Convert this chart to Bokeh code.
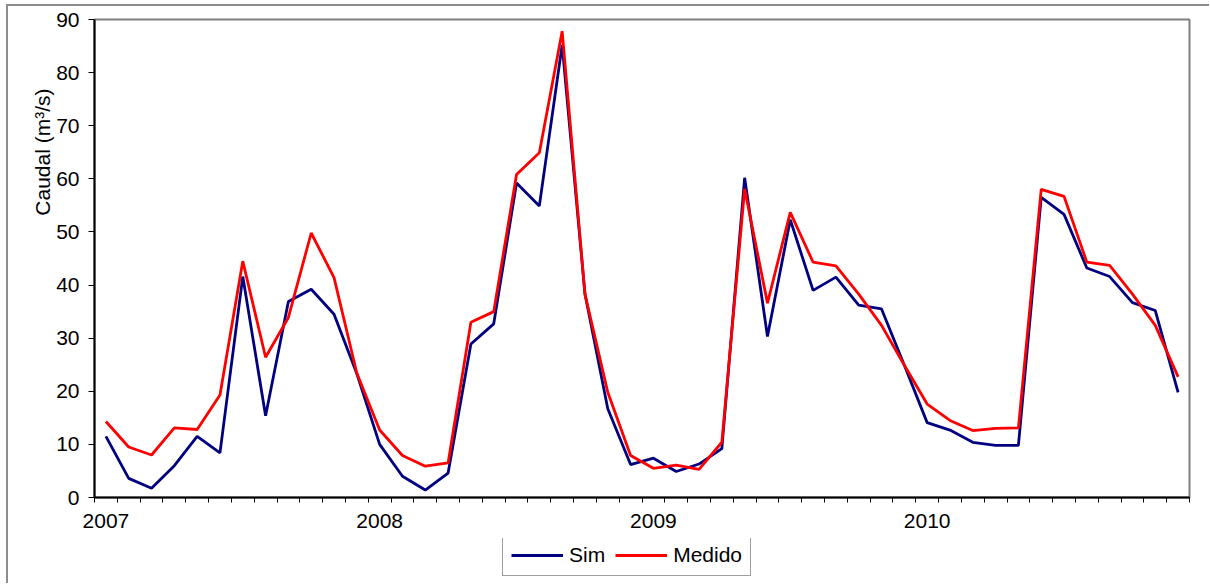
from bokeh.plotting import figure
from bokeh.layouts import column
from bokeh.models import (Range1d, FixedTicker, Legend, LegendItem, Title,
                          ColumnDataSource)
from bokeh.embed import file_html
from bokeh.resources import INLINE

# ---- data (monthly, Jan 2007 .. Dec 2010) ----
years = ["2007", "2008", "2009", "2010"]
sim = [11.5, 3.6, 1.75, 6.0, 11.5, 8.4, 41.6, 15.4,
       36.9, 39.2, 34.5, 23.3, 10.0, 4.0, 1.4, 4.6,
       28.9, 32.7, 59.2, 54.9, 85.2, 38.3, 16.7, 6.2,
       7.4, 4.9, 6.3, 9.2, 60.2, 30.3, 52.3, 39.0,
       41.5, 36.2, 35.5, 24.9, 14.1, 12.7, 10.4, 9.8,
       9.8, 56.5, 53.3, 43.2, 41.6, 36.7, 35.2, 19.8]
medido = [14.3, 9.5, 8.0, 13.1, 12.8, 19.3, 44.5, 26.4,
          33.9, 49.8, 41.4, 23.4, 12.7, 7.9, 5.9, 6.5,
          33.0, 35.0, 60.8, 64.9, 87.8, 38.3, 19.8, 7.9,
          5.5, 6.1, 5.3, 10.4, 58.1, 36.6, 53.7, 44.3,
          43.6, 38.3, 32.4, 24.9, 17.6, 14.5, 12.6, 13.0,
          13.1, 58.0, 56.7, 44.3, 43.7, 38.3, 32.4, 22.7]
y_ticks = [0, 10, 20, 30, 40, 50, 60, 70, 80, 90]
series_names = ["Sim", "Medido"]
series_colors = ["#000080", "#FF0000"]

n = len(sim)
idx = list(range(n))
src = ColumnDataSource(dict(x=idx, sim=sim, med=medido))

FONT = "Liberation Sans"
FS = "21px"
LW = 2.8

p = figure(width=1201, height=532, output_backend="svg", toolbar_location=None,
           x_range=Range1d(-0.5, n - 0.5), y_range=Range1d(0, 90),
           min_border_left=86, min_border_right=20, min_border_top=13,
           min_border_bottom=41)
p.background_fill_color = "white"
p.border_fill_color = "white"
p.outline_line_color = "#808080"
p.outline_line_width = 2
p.xgrid.visible = False
p.ygrid.visible = False

p.line("x", "sim", source=src, line_color=series_colors[0], line_width=LW)
p.line("x", "med", source=src, line_color=series_colors[1], line_width=LW)

# x axis
year_pos = [i for i in idx if i % 12 == 0]
xt = FixedTicker(ticks=year_pos, minor_ticks=[i - 0.5 for i in range(n + 1)])
p.xaxis.ticker = xt
p.xaxis.major_label_overrides = {yp: years[k] for k, yp in enumerate(year_pos)}
p.xaxis.major_tick_line_color = None
p.xaxis.major_tick_out = 0
p.xaxis.major_tick_in = 0
p.xaxis.minor_tick_out = 5
p.xaxis.minor_tick_in = 0
p.xaxis.minor_tick_line_color = "black"
p.xaxis.axis_line_color = "black"
p.xaxis.axis_line_width = 2
p.xaxis.major_label_standoff = 11
p.xaxis.major_label_text_font = FONT
p.xaxis.major_label_text_font_size = FS
p.xaxis.major_label_text_color = "black"

# y axis
p.yaxis.ticker = FixedTicker(ticks=y_ticks)
p.yaxis.minor_tick_line_color = None
p.yaxis.major_tick_out = 6
p.yaxis.major_tick_in = 0
p.yaxis.major_tick_line_color = "black"
p.yaxis.axis_line_color = "black"
p.yaxis.axis_line_width = 2
p.yaxis.major_label_standoff = 9
p.yaxis.major_label_text_font = FONT
p.yaxis.major_label_text_font_size = FS
p.yaxis.major_label_text_color = "black"

# y axis title (toward the top, as in the original)
ytitle = Title(text="Caudal (m³/s)", align="right", offset=69, standoff=0,
               text_font=FONT, text_font_size=FS, text_font_style="normal",
               text_color="black")
p.add_layout(ytitle, "left")

# ---- legend strip below the chart (frame is aligned with the chart's frame) ----
pl = figure(width=1201, height=45, output_backend="svg", toolbar_location=None,
            x_range=Range1d(0, 1), y_range=Range1d(0, 1),
            x_axis_location=None, y_axis_location=None, min_border=0)
pl.outline_line_color = None
pl.xgrid.visible = False
pl.ygrid.visible = False
pl.background_fill_color = "white"
pl.border_fill_color = "white"
items = []
for name, col in zip(series_names, series_colors):
    # legend proxy: same style as the chart line, kept outside the visible range
    r = pl.line(x=[-5, -4], y=[-5, -5], line_color=col, line_width=LW)
    items.append(LegendItem(label=name, renderers=[r]))
legend = Legend(items=items, orientation="horizontal", location=(408, 7),
                glyph_width=52, glyph_height=22, label_standoff=6, spacing=10,
                padding=8, margin=0,
                label_text_font=FONT, label_text_font_size=FS,
                label_text_color="black",
                border_line_color="#404040", border_line_width=1,
                background_fill_color="white", background_fill_alpha=1)
pl.add_layout(legend)

layout = column(p, pl, spacing=0)
layout.styles = {"margin-left": "6px", "margin-top": "4px",
                 "border-left": "2px solid #8c8c8c",
                 "border-top": "2px solid #8c8c8c"}

open("out.html", "w").write(file_html(layout, INLINE))
